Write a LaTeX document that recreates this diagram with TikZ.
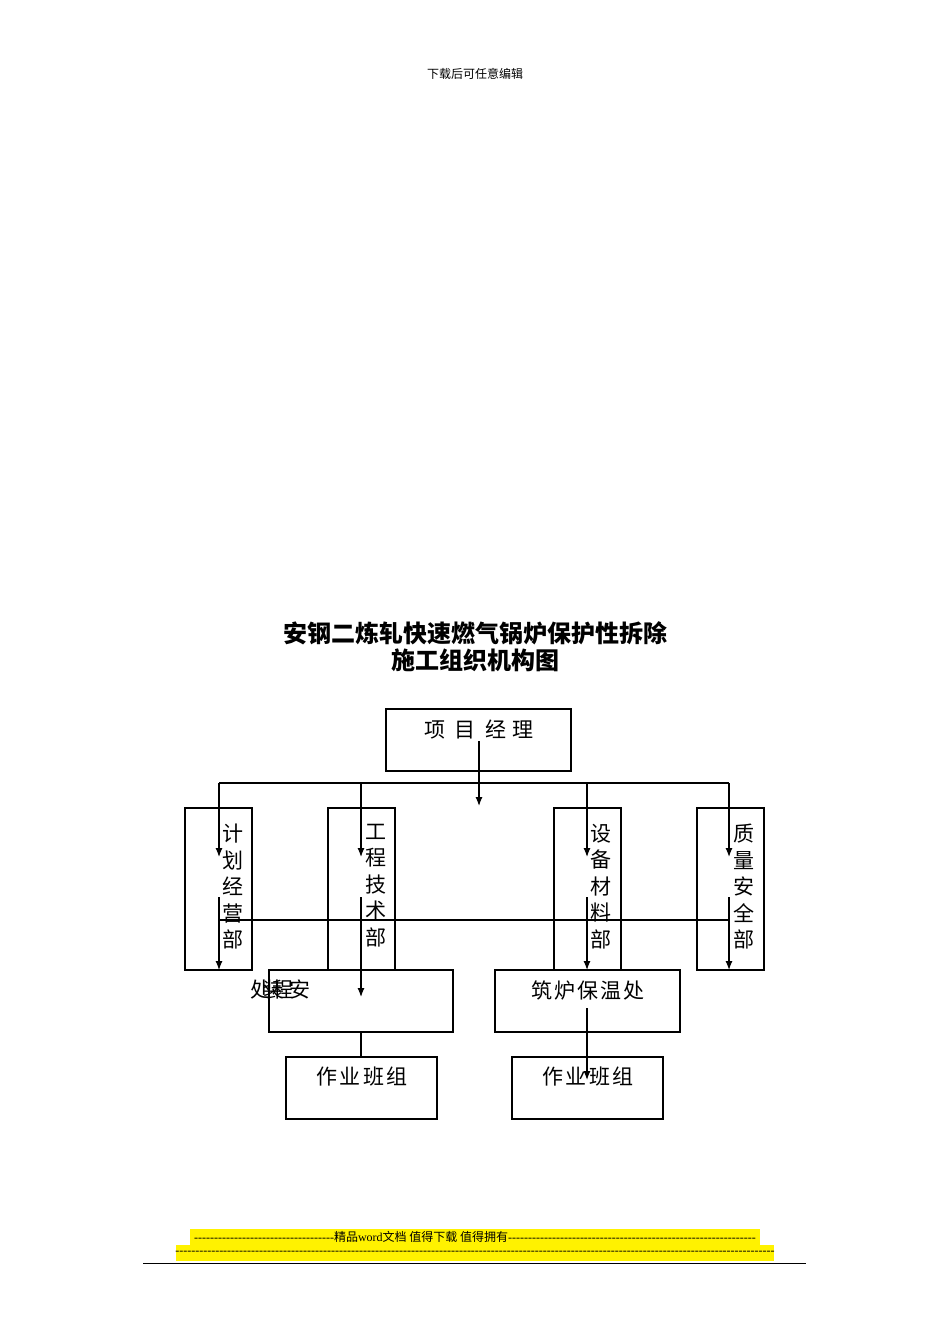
\documentclass[tikz,border=0pt]{standalone}
\usepackage{fontspec}
\setmainfont{Liberation Serif}[Ligatures=TeXOff]
\newfontfamily\cjk{Noto Sans CJK SC}
\begin{document}
\begin{tikzpicture}[x=1pt,y=-1pt,
  bx/.style={draw,line width=1.2pt},
  ln/.style={line width=1.2pt},
  ar/.style={line width=1.2pt,-{Latex[length=9pt,width=7pt]}},
  t/.style={font=\cjk\fontsize{21}{21}\selectfont,inner sep=0pt},
  vt/.style={font=\cjk\fontsize{21}{26.5}\selectfont,inner sep=0pt,align=center,anchor=north}]
\usetikzlibrary{arrows.meta}
\useasboundingbox[fill=white] (0,0) rectangle (950,1344);
\node[font=\cjk\fontsize{12}{12}\selectfont] (hd) at (475,74) {下载后可任意编辑};
\node[font=\cjk\bfseries\fontsize{24}{27}\selectfont,align=center] (ti) at (475,647) {安钢二炼轧快速燃气锅炉保护性拆除\\施工组织机构图};
% boxes
\draw[bx] (386,709) rectangle (571,771);
\node[t] (pm) at (479,729) {项\hspace{0.45em}目\hspace{0.45em}经\hspace{0.3em}理};
\draw[bx] (185,808) rectangle (252,970);
\draw[bx] (328,808) rectangle (395,970);
\draw[bx] (554,808) rectangle (621,970);
\draw[bx] (697,808) rectangle (764,970);
\node[vt] (d1) at (233,824) {计\\划\\经\\营\\部};
\node[vt] (d2) at (376,824) {工\\程\\技\\术\\部};
\node[vt] (d3) at (601,824) {设\\备\\材\\料\\部};
\node[vt] (d4) at (744,824) {质\\量\\安\\全\\部};
\draw[bx,fill=white] (269,970) rectangle (453,1032);
\draw[bx,fill=white] (495,970) rectangle (680,1032);
\node[t,anchor=west] (az) at (250,990) {处\hspace{-0.35em}装\hspace{-0.6em}程\hspace{-0.2em}安};
\node[t] (zl) at (588,990) {筑\hspace{0.1em}炉\hspace{0.1em}保\hspace{0.1em}温\hspace{0.1em}处};
\draw[bx] (286,1057) rectangle (437,1119);
\draw[bx] (512,1057) rectangle (663,1119);
\node[t] (w1) at (362,1077) {作\hspace{0.1em}业\hspace{0.1em}班\hspace{0.1em}组};
\node[t] (w2) at (588,1077) {作\hspace{0.1em}业\hspace{0.1em}班\hspace{0.1em}组};
% connectors
\draw[ar] (479,741) -- (479,806);
\draw[ln] (219,783) -- (729,783);
\foreach \x in {219,361,587,729} \draw[ar] (\x,783) -- (\x,857);
\draw[ln] (219,920) -- (729,920);
\foreach \x in {219,587,729} \draw[ar] (\x,897) -- (\x,970);
\draw[ar] (361,897) -- (361,997);
\draw[ln] (361,1032) -- (361,1057);
\draw[ar] (587,1008) -- (587,1080);
% footer
\fill[yellow] (190,1229) rectangle (760,1245);
\fill[yellow] (176,1245) rectangle (774,1261);
\node[font=\fontsize{12}{12}\selectfont,inner sep=0pt] (f1) at (475,1237) {-----------------------------------{\cjk 精品}word{\cjk 文档 值得下载 值得拥有}--------------------------------------------------------------};
\node[font=\fontsize{12}{12}\selectfont,inner sep=0pt] (f2) at (475,1253) {------------------------------------------------------------------------------------------------------------------------------------------------------};
\draw[line width=1pt] (143,1263) -- (806,1263);
\end{tikzpicture}
\end{document}
